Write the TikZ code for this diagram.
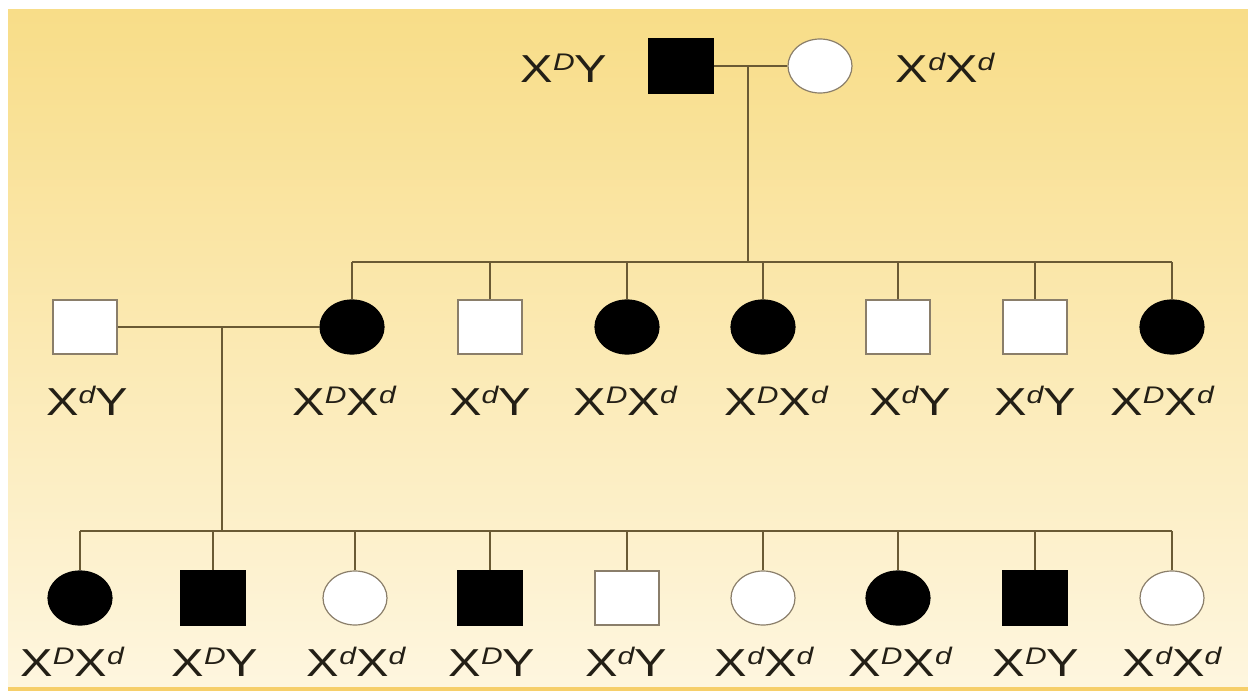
\documentclass[tikz,border=0pt]{standalone}
\usepackage{fontspec}
\setmainfont{Liberation Sans}
\usetikzlibrary{shapes.geometric}
\definecolor{bgtop}{HTML}{F8DD88}
\definecolor{bgbot}{HTML}{FEF6DF}
\definecolor{rim}{HTML}{F6CF6A}
\definecolor{wire}{HTML}{6A5A34}
\definecolor{outl}{HTML}{8A7E6A}
\definecolor{ink}{HTML}{231F16}
% allele superscript
\newcommand\al[1]{\raisebox{12pt}{\fontsize{24}{24}\selectfont\itshape #1}}
\tikzset{
  person/.style={minimum width=64pt, minimum height=54pt, inner sep=0pt, draw=outl, line width=1.2pt},
  male/.style={person, rectangle},
  female/.style={person, ellipse},
  aff/.style={fill=black, draw=black},
  unaff/.style={fill=white},
  geno/.style={font=\fontsize{39}{39}\selectfont, text=ink, inner sep=0pt, xscale=1.25},
  wire/.style={draw=wire, line width=1.5pt},
}
\begin{document}
\begin{tikzpicture}[x=1pt, y=-1pt]
\useasboundingbox (0,0) rectangle (1248,693);
% background panel
\fill[white] (0,0) rectangle (1248,693);
\shade[top color=bgtop, bottom color=bgbot] (8,10) rectangle (1248,688);
\fill[rim] (8,687) rectangle (1248,691);

% parents
\node[male, aff] (p1) at (681,66) {};
\node[female, unaff] (p2) at (820,66) {};
\node[geno] (lp1) at (564,68) {X\al{D}Y};
\node[geno] (lp2) at (945,68) {X\al{d}X\al{d}};

% second generation
\node[male, unaff] (s0) at (85,327) {};
\node[female, aff] (c1) at (352,327) {};
\node[male, unaff] (c2) at (490,327) {};
\node[female, aff] (c3) at (627,327) {};
\node[female, aff] (c4) at (763,327) {};
\node[male, unaff] (c5) at (898,327) {};
\node[male, unaff] (c6) at (1035,327) {};
\node[female, aff] (c7) at (1172,327) {};

\node[geno] (ls0) at (87,401) {X\al{d}Y};
\node[geno] (lc1) at (344,401) {X\al{D}X\al{d}};
\node[geno] (lc2) at (490,401) {X\al{d}Y};
\node[geno] (lc3) at (625,401) {X\al{D}X\al{d}};
\node[geno] (lc4) at (776,401) {X\al{D}X\al{d}};
\node[geno] (lc5) at (910,401) {X\al{d}Y};
\node[geno] (lc6) at (1035,401) {X\al{d}Y};
\node[geno] (lc7) at (1162,401) {X\al{D}X\al{d}};

% third generation
\node[female, aff] (g1) at (80,598) {};
\node[male, aff] (g2) at (213,598) {};
\node[female, unaff] (g3) at (355,598) {};
\node[male, aff] (g4) at (490,598) {};
\node[male, unaff] (g5) at (627,598) {};
\node[female, unaff] (g6) at (763,598) {};
\node[female, aff] (g7) at (898,598) {};
\node[male, aff] (g8) at (1035,598) {};
\node[female, unaff] (g9) at (1172,598) {};

\node[geno] (lg1) at (72,662) {X\al{D}X\al{d}};
\node[geno] (lg2) at (215,662) {X\al{D}Y};
\node[geno] (lg3) at (356,662) {X\al{d}X\al{d}};
\node[geno] (lg4) at (492,662) {X\al{D}Y};
\node[geno] (lg5) at (626,662) {X\al{d}Y};
\node[geno] (lg6) at (764,662) {X\al{d}X\al{d}};
\node[geno] (lg7) at (900,662) {X\al{D}X\al{d}};
\node[geno] (lg8) at (1036,662) {X\al{D}Y};
\node[geno] (lg9) at (1172,662) {X\al{d}X\al{d}};

% first family
\coordinate (m1) at (748,66);
\coordinate (b1) at (748,262);
\draw[wire] (p1.east) -- (p2.west);
\draw[wire] (m1) -- (b1);
\draw[wire] (c1.north |- b1) -- (c7.north |- b1);
\foreach \k in {c1,c2,c3,c4,c5,c6,c7}
  \draw[wire] (\k.north) -- (\k.north |- b1);

% second family
\coordinate (m2) at (222,327);
\coordinate (b2) at (222,531);
\draw[wire] (s0.east) -- (c1.west);
\draw[wire] (m2) -- (b2);
\draw[wire] (g1.north |- b2) -- (g9.north |- b2);
\foreach \k in {g1,g2,g3,g4,g5,g6,g7,g8,g9}
  \draw[wire] (\k.north) -- (\k.north |- b2);
\end{tikzpicture}
\end{document}
